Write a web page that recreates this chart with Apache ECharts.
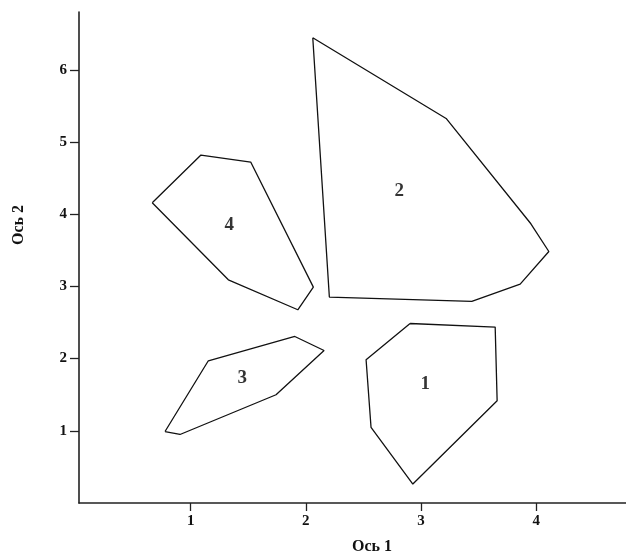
<!DOCTYPE html>
<html>
<head>
<meta charset="utf-8">
<script src="https://cdn.jsdelivr.net/npm/echarts@6/dist/echarts.min.js"></script>
<style>
  html, body { margin: 0; padding: 0; background: #fff; }
  #chart { width: 626px; height: 554px; }
</style>
</head>
<body>
<div id="chart"></div>
<script>
// контуры групп в плоскости осей 1 и 2
const group1 = [[2.905, 2.486], [3.644, 2.436], [3.661, 1.416], [2.929, 0.262], [2.566, 1.046], [2.523, 1.983]];
const group2 = [[2.060, 6.443], [3.218, 5.326], [3.954, 3.867], [4.110, 3.483], [3.861, 3.032], [3.441, 2.791], [2.204, 2.852]];
const group3 = [[0.777, 0.990], [0.907, 0.949], [1.741, 1.499], [2.158, 2.112], [1.904, 2.306], [1.153, 1.970]];
const group4 = [[0.666, 4.158], [1.089, 4.819], [1.521, 4.722], [2.065, 2.990], [1.930, 2.676], [1.327, 3.091]];

const groupNames = ['1', '2', '3', '4'];
const labelPos = [[3.036, 1.647], [2.812, 4.314], [1.448, 1.730], [1.335, 3.853]];

const xTicks = [1, 2, 3, 4];
const yTicks = [1, 2, 3, 4, 5, 6];

const FONT = "'Liberation Serif', 'Times New Roman', serif";

function closed(pts) {
  return pts.concat([pts[0]]);
}

function renderChart() {
  const dom = document.getElementById('chart');
  const chart = echarts.init(dom);
  const hulls = [group1, group2, group3, group4];

  const series = hulls.map(function (pts, i) {
    return {
      name: 'group' + groupNames[i],
      type: 'line',
      data: closed(pts),
      symbol: 'none',
      silent: true,
      lineStyle: { color: '#111', width: 1.3 }
    };
  });

  series.push({
    type: 'scatter',
    symbolSize: 0,
    silent: true,
    data: labelPos.map(function (p, i) {
      return { value: p, name: groupNames[i] };
    }),
    label: {
      show: true,
      position: 'inside',
      formatter: '{b}',
      color: '#000',
      fontFamily: FONT,
      fontWeight: 'bold',
      fontSize: 19
    }
  });

  const option = {
    animation: false,
    grid: {
      left: 79,
      right: 0,
      top: 12,
      bottom: 51,
      outerBoundsMode: 'none'
    },
    xAxis: {
      type: 'value',
      min: 0.03,
      max: 4.78,
      name: 'Ось 1',
      nameLocation: 'middle',
      nameGap: 36,
      nameTextStyle: {
        fontFamily: FONT,
        fontWeight: 'bold',
        fontSize: 16,
        color: '#111',
        padding: [0, 0, 0, 39]
      },
      splitLine: { show: false },
      axisLine: { lineStyle: { color: '#222', width: 1.6 } },
      axisTick: { length: 8, customValues: xTicks, lineStyle: { color: '#222', width: 1.3 } },
      axisLabel: {
        customValues: xTicks,
        margin: 11,
        fontFamily: FONT,
        fontWeight: 'bold',
        fontSize: 15,
        color: '#111'
      }
    },
    yAxis: {
      type: 'value',
      min: 0,
      max: 6.8,
      name: 'Ось 2',
      nameLocation: 'middle',
      nameGap: 52,
      nameRotate: 90,
      nameTextStyle: {
        fontFamily: FONT,
        fontWeight: 'bold',
        fontSize: 16,
        color: '#111',
        padding: [0, 0, 0, 65]
      },
      splitLine: { show: false },
      axisLine: { lineStyle: { color: '#222', width: 1.6 } },
      axisTick: { length: 9, customValues: yTicks, lineStyle: { color: '#222', width: 1.3 } },
      axisLabel: {
        customValues: yTicks,
        margin: 12,
        fontFamily: FONT,
        fontWeight: 'bold',
        fontSize: 15,
        color: '#111'
      }
    },
    series: series
  };
  chart.setOption(option, true);
}

renderChart();
</script>
</body>
</html>
